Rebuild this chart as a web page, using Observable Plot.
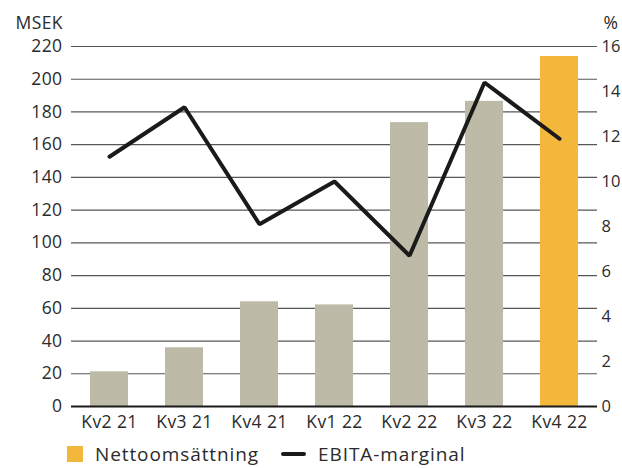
<!DOCTYPE html>
<html><head><meta charset="utf-8">
<script src="https://cdn.jsdelivr.net/npm/d3@7"></script>
<script src="https://cdn.jsdelivr.net/npm/@observablehq/plot@0.6"></script>
<style>
body{margin:0;background:#fff;font-family:"Open Sans",sans-serif;color:#2b2b2b;}
#wrap{position:relative;width:622px;height:468px;}
svg text{letter-spacing:0.4px;}
svg g.raxis text{letter-spacing:0;}
.lg{position:absolute;top:443px;left:67px;display:flex;align-items:center;font-size:19px;letter-spacing:0.9px;color:#2b2b2b;line-height:22px;height:22px;}
.sw{width:16px;height:16px;background:#f3b83b;margin-right:12px;}
.ln{width:25px;height:4px;background:#1a1a1a;margin-left:22px;margin-right:12px;border-radius:2px;}
</style></head>
<body><div id="wrap"></div>
<script>
const categories = ["Kv2 21","Kv3 21","Kv4 21","Kv1 22","Kv2 22","Kv3 22","Kv4 22"];
const nettoomsattning = [21.2, 35.9, 64.0, 62.1, 173.5, 186.5, 213.9];
const ebitaMarginal = [11.1, 13.3, 8.1, 10.0, 6.7, 14.4, 11.9];
const leftTicks = [0,20,40,60,80,100,120,140,160,180,200,220];
const rightTicks = [0,2,4,6,8,10,12,14,16];
const ratio = 220/16;

const data = categories.map((c,i)=>({cat:c, sales:nettoomsattning[i], ebita:ebitaMarginal[i], last:i===categories.length-1}));

const chart = Plot.plot({
  width:622, height:438,
  marginTop:46, marginBottom:32, marginLeft:71, marginRight:25,
  style:{fontFamily:"Open Sans, sans-serif", fontSize:"17.5px", color:"#2b2b2b", background:"#fff"},
  x:{domain:categories, paddingInner:0.5, paddingOuter:0.25, label:null},
  y:{domain:[0,220], label:null},
  marks:[
    Plot.gridY(leftTicks, {stroke:"#3a3a3a", strokeOpacity:0.85, strokeWidth:1.2}),
    Plot.barY(data, {x:"cat", y:"sales", fill:d=>d.last?"#f3b83b":"#bdbba8"}),
    Plot.ruleY([0], {stroke:"#1a1a1a", strokeWidth:2}),
    Plot.lineY(data, {x:"cat", y:d=>d.ebita*ratio, stroke:"#1a1a1a", strokeWidth:4, strokeLinejoin:"miter"}),
    Plot.axisY(leftTicks, {anchor:"left", tickSize:0, tickPadding:9, label:null}),
    Plot.axisY(rightTicks.map(v=>v*ratio), {anchor:"right", className:"raxis", tickSize:0, tickPadding:4, fontSize:16.5, tickFormat:d=>Math.round(d/ratio), label:null}),
    Plot.axisX({tickSize:0, tickPadding:9, label:null}),
    Plot.text(["MSEK"], {frameAnchor:"top-left", dx:-56, dy:-30, textAnchor:"start"}),
    Plot.text(["%"], {frameAnchor:"top-right", dx:6, dy:-30, textAnchor:"start"})
  ]
});
const wrap = document.getElementById("wrap");
wrap.appendChild(chart);
const lg = document.createElement("div");
lg.className = "lg";
lg.innerHTML = '<div class="sw"></div><span>Nettoomsättning</span><div class="ln"></div><span>EBITA-marginal</span>';
wrap.appendChild(lg);
</script></body></html>
